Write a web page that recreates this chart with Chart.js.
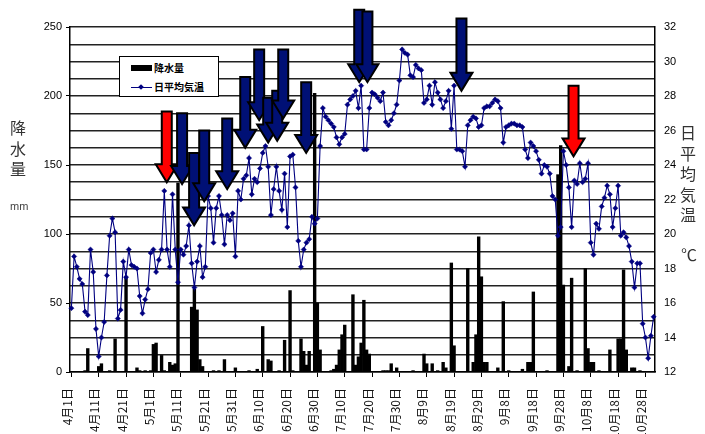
<!DOCTYPE html>
<html>
<head>
<meta charset="utf-8">
<script src="https://cdn.jsdelivr.net/npm/chart.js@4.4.0/dist/chart.umd.min.js"></script>
<style>
  body { margin: 0; background: #fff; }
  #wrap { position: relative; width: 705px; height: 434px; }
  .vt { position: absolute; width: 20px; text-align: center; font-family: "Noto Sans CJK JP", sans-serif;
        font-size: 16px; line-height: 20.5px; color: #333; }
  .unit { position: absolute; font-family: "Liberation Sans", Arial, sans-serif; font-size: 11px; color: #444; }
  #legend { position: absolute; left: 119px; top: 56px; width: 98px; height: 39px; border: 1.5px solid #000;
            background: #fff; font-family: "Noto Sans CJK JP", sans-serif; font-size: 10px; font-weight: bold; }
  #legend .row { position: absolute; left: 0; height: 14px; line-height: 14px; }
  #legend .txt { position: absolute; left: 34px; white-space: nowrap; }
</style>
</head>
<body>
<div id="wrap">
  <canvas id="chart" width="705" height="434"></canvas>
  <div class="vt" style="left:8px;top:117px;">降<br>水<br>量</div>
  <div class="unit" style="left:10px;top:200px;">mm</div>
  <div class="vt" style="left:678px;top:122px;">日<br>平<br>均<br>気<br>温</div>
  <div class="vt" style="left:679px;top:244px;">℃</div>
  <div id="legend">
    <div class="row" style="top:4px;">
      <div style="position:absolute;left:11px;top:4px;width:21px;height:6px;background:#000;"></div>
      <div class="txt">降水量</div>
    </div>
    <div class="row" style="top:23px;">
      <div style="position:absolute;left:11px;top:7px;width:21px;height:1px;background:#000080;"></div>
      <div style="position:absolute;left:19px;top:5px;width:4px;height:4px;background:#000080;transform:rotate(45deg);"></div>
      <div class="txt">日平均気温</div>
    </div>
  </div>
</div>
<script>
// 4/1 - 10/31, one entry per day
const monthDays = [[4, 30], [5, 31], [6, 30], [7, 31], [8, 31], [9, 30], [10, 31]];
const dayLabels = [];
monthDays.forEach(([m, n]) => { for (let d = 1; d <= n; d++) dayLabels.push(m + '月' + d + '日'); });

const tickLabels = ['4月1日', '4月11日', '4月21日', '5月1日', '5月11日', '5月21日', '5月31日', '6月10日',
  '6月20日', '6月30日', '7月10日', '7月20日', '7月30日', '8月9日', '8月19日', '8月29日', '9月8日',
  '9月18日', '9月28日', '10月8日', '10月18日', '10月28日'];

// 降水量 (mm)
const rain = [
  0, 0, 0, 0, 0, 1, 17, 0, 0, 0,
  4, 6, 0, 0, 1, 0, 24, 0, 0, 0,
  69, 0, 0, 0, 3, 1, 0, 1, 0, 1,
  20, 21, 0, 12, 1, 0, 7, 5, 6, 137,
  0, 0, 0, 0, 47, 60, 45, 9, 4, 0,
  0, 0, 1, 0, 1, 0, 9, 0, 0, 0,
  3, 0, 0, 0, 0, 1, 0, 0, 2, 0,
  33, 0, 9, 8, 0, 0, 1, 0, 23, 0,
  59, 1, 0, 0, 24, 15, 5, 15, 0, 202,
  50, 16, 0, 0, 0, 1, 2, 5, 16, 27,
  34, 0, 0, 56, 5, 11, 21, 52, 16, 13,
  0, 0, 0, 0, 1, 1, 1, 6, 0, 3,
  0, 0, 0, 0, 0, 1, 0, 0, 0, 13,
  6, 0, 6, 0, 1, 0, 7, 3, 0, 79,
  19, 0, 0, 0, 0, 75, 0, 7, 27, 98,
  69, 7, 7, 0, 0, 0, 3, 0, 51, 0,
  1, 0, 0, 0, 0, 2, 0, 7, 7, 58,
  0, 0, 0, 0, 1, 0, 0, 0, 143, 164,
  63, 0, 4, 68, 0, 1, 0, 0, 75, 17,
  7, 7, 0, 1, 0, 0, 0, 16, 0, 0,
  24, 24, 74, 16, 0, 3, 3, 0, 1, 0,
  0, 0, 0, 0
];

// 日平均気温 (℃)
const temp = [
  15.7, 18.7, 18.1, 17.4, 17.1, 15.5, 15.3, 19.1, 17.8, 14.5,
  12.9, 14.0, 14.9, 17.6, 19.9, 20.9, 20.1, 15.1, 15.6, 18.4,
  17.5, 19.1, 18.2, 18.1, 18.0, 16.4, 15.4, 16.2, 16.8, 18.9,
  19.1, 17.8, 18.5, 19.1, 22.5, 19.1, 18.1, 22.3, 19.1, 17.2,
  19.1, 18.8, 19.3, 20.5, 18.3, 16.9, 18.4, 19.3, 17.5, 18.1,
  22.2, 21.5, 19.5, 21.5, 22.2, 21.1, 19.4, 21.1, 20.8, 21.2,
  18.7, 22.5, 22.0, 23.2, 23.4, 24.4, 22.3, 23.2, 23.0, 23.8,
  24.7, 25.1, 23.9, 21.1, 22.6, 23.9, 22.5, 21.4, 23.5, 20.4,
  24.5, 24.6, 22.7, 19.6, 18.1, 19.1, 19.5, 19.7, 21.0, 20.6,
  20.9, 25.1, 27.3, 26.8, 26.6, 26.4, 26.2, 25.6, 25.2, 25.6,
  25.8, 27.5, 27.8, 28.0, 28.3, 27.3, 28.6, 24.9, 24.9, 27.3,
  28.2, 28.1, 27.9, 27.7, 28.2, 26.5, 26.3, 26.6, 27.0, 27.5,
  28.9, 30.7, 30.5, 30.4, 29.2, 29.1, 29.8, 29.6, 29.5, 27.6,
  27.8, 28.6, 27.5, 28.8, 28.2, 27.8, 27.3, 27.7, 28.3, 26.1,
  28.6, 24.9, 24.9, 24.8, 23.9, 26.3, 26.6, 26.8, 26.7, 26.2,
  26.3, 27.3, 27.4, 27.4, 27.6, 27.8, 27.7, 27.3, 25.3, 26.2,
  26.3, 26.4, 26.4, 26.3, 26.3, 26.2, 24.9, 24.4, 25.3, 25.1,
  24.8, 24.3, 23.5, 24.0, 23.9, 23.5, 22.2, 22.0, 19.9, 20.4,
  24.8, 24.0, 22.7, 20.4, 23.1, 22.9, 24.1, 23.0, 23.2, 24.1,
  19.5, 18.8, 20.6, 20.3, 21.6, 22.1, 22.8, 22.3, 20.4, 21.5,
  22.8, 19.9, 20.1, 19.8, 19.3, 18.4, 16.9, 18.3, 18.3, 14.8,
  14.0, 12.8, 14.1, 15.2
];

// arrows: day index, temperature at tip and at tail
const arrowDay  = [34.9, 40.5, 44.9, 48.6, 57.0, 63.6, 68.7, 72.0, 75.3, 77.5, 85.9, 105.3, 108.3, 142.7, 183.7];
const arrowTip  = [23.0, 22.9, 20.5, 21.9, 22.6, 25.0, 26.6, 25.3, 25.4, 26.7, 24.7, 28.8, 28.8, 28.3, 24.5];
const arrowTail = [27.1, 27.0, 24.7, 26.0, 26.7, 29.1, 30.7, 27.9, 28.3, 30.7, 28.8, 33.0, 32.9, 32.5, 28.6];
const arrowRed  = [true, false, false, false, false, false, false, false, false, false, false, false, false, false, true];

const arrowPlugin = {
  id: 'arrows',
  afterDatasetsDraw(chart) {
    const ctx = chart.ctx, xs = chart.scales.x, ys = chart.scales.y1;
    ctx.save();
    arrowDay.forEach((d, i) => {
      const x = xs.getPixelForValue(d);
      const tip = ys.getPixelForValue(arrowTip[i]);
      const tail = ys.getPixelForValue(arrowTail[i]);
      const hl = 18, hw = 11, sw = 5;
      ctx.beginPath();
      ctx.moveTo(x - sw, tail);
      ctx.lineTo(x + sw, tail);
      ctx.lineTo(x + sw, tip - hl);
      ctx.lineTo(x + hw, tip - hl);
      ctx.lineTo(x, tip);
      ctx.lineTo(x - hw, tip - hl);
      ctx.lineTo(x - sw, tip - hl);
      ctx.closePath();
      ctx.fillStyle = arrowRed[i] ? '#ff0000' : '#001075';
      ctx.fill();
      ctx.lineWidth = 2;
      ctx.strokeStyle = '#000';
      ctx.stroke();
    });
    ctx.restore();
  }
};

const numFont = { family: '"Liberation Sans", Arial, sans-serif', size: 11 };

new Chart(document.getElementById('chart'), {
  type: 'bar',
  data: {
    labels: dayLabels,
    datasets: [
      {
        type: 'line', label: '日平均気温', data: temp, yAxisID: 'y1',
        borderColor: '#000080', borderWidth: 1.1, pointStyle: 'rectRot', pointRadius: 2.6,
        pointBackgroundColor: '#000080', pointBorderColor: '#000080', pointBorderWidth: 0.5, tension: 0
      },
      {
        type: 'bar', label: '降水量', data: rain, yAxisID: 'y',
        backgroundColor: '#000', barPercentage: 1, categoryPercentage: 1
      }
    ]
  },
  options: {
    responsive: false,
    animation: false,
    layout: { padding: { top: 27, left: 0, right: 0, bottom: 0 } },
    plugins: { legend: { display: false }, tooltip: { enabled: false } },
    scales: {
      x: {
        offset: true,
        grid: {
          drawOnChartArea: false, offset: false, tickLength: 5,
          color: c => (tickLabels.includes(dayLabels[c.index]) ? '#000' : 'rgba(0,0,0,0)')
        },
        border: { color: '#000', width: 1.5 },
        ticks: {
          autoSkip: false, minRotation: 90, maxRotation: 90, padding: 11, labelOffset: -4,
          color: '#111', font: { family: '"Noto Sans CJK JP", sans-serif', size: 12 },
          callback: (v, i) => (tickLabels.includes(dayLabels[i]) ? dayLabels[i] : '')
        },
        afterFit: s => { s.height = 62; }
      },
      y: {
        position: 'left', min: 0, max: 250,
        grid: { drawOnChartArea: false, tickLength: 4, color: '#000' },
        border: { color: '#000', width: 1.5 },
        ticks: { stepSize: 50, padding: 4, color: '#000', font: numFont },
        afterFit: s => { s.width = 70; }
      },
      y1: {
        position: 'right', min: 12, max: 32,
        grid: { color: '#222', lineWidth: 1.5, drawTicks: false },
        border: { color: '#000', width: 1.5 },
        ticks: { stepSize: 1, padding: 9, color: '#000', font: numFont,
                 callback: v => (v % 2 === 0 ? v : '') },
        afterFit: s => { s.width = 50; }
      }
    }
  },
  plugins: [arrowPlugin]
});
</script>
</body>
</html>
